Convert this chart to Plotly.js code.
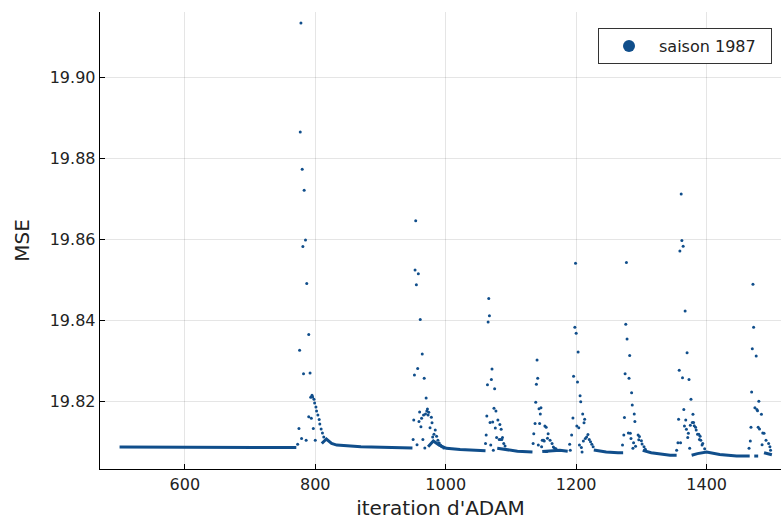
<!DOCTYPE html>
<html>
<head>
<meta charset="utf-8">
<script src="https://cdn.plot.ly/plotly-3.0.1.min.js"></script>
<style>
html, body { margin: 0; padding: 0; overflow: hidden; background: #fff; }
#chart { width: 781px; height: 525px; }
</style>
</head>
<body>
<div id="chart"></div>
<script>
// ---- data ----
const seriesName = "saison 1987";

// scattered points of the restarts (iteration, MSE)
const spikeIter = [
  778, 777, 780, 783, 785, 781, 787, 790, 776, 782, 792, 793, 795, 796, 798, 799, 801, 802, 804, 806, 807, 809, 811, 813, 790, 794, 775, 797, 779, 786, 800, 773,
  954, 953, 958, 955, 961, 964, 957, 952, 967, 970, 972, 971, 974, 969, 973, 960, 966, 963, 951, 959, 978, 962, 979, 976, 984, 980, 950, 965, 986, 988, 990, 956, 968, 992, 982, 994, 997,
  1066, 1067, 1065, 1071, 1070, 1064, 1075, 1074, 1077, 1063, 1068, 1072, 1080, 1083, 1085, 1076, 1062, 1078, 1087, 1082, 1084, 1086, 1089, 1091, 1069, 1061, 1073,
  1140, 1141, 1139, 1138, 1143, 1146, 1145, 1137, 1144, 1152, 1154, 1135, 1157, 1156, 1148, 1150, 1151, 1160, 1163, 1134, 1142, 1147, 1165, 1167, 1169, 1153, 1155,
  1199, 1198, 1200, 1203, 1196, 1202, 1206, 1207, 1210, 1195, 1213, 1212, 1201, 1204, 1193, 1218, 1216, 1214, 1211, 1220, 1222, 1224, 1226, 1205, 1208, 1209, 1190, 1191,
  1277, 1276, 1278, 1282, 1275, 1281, 1285, 1286, 1289, 1274, 1290, 1280, 1283, 1273, 1295, 1297, 1296, 1300, 1301, 1304, 1306, 1284, 1288, 1291, 1287, 1271,
  1361, 1362, 1364, 1359, 1367, 1370, 1358, 1363, 1373, 1376, 1365, 1379, 1357, 1368, 1378, 1381, 1384, 1386, 1389, 1393, 1397, 1366, 1369, 1372, 1375, 1371, 1388, 1390, 1391, 1394, 1380, 1383, 1356, 1360, 1374, 1354,
  1471, 1472, 1470, 1476, 1469, 1480, 1474, 1477, 1478, 1484, 1468, 1479, 1481, 1486, 1488, 1491, 1495, 1485, 1467, 1497, 1498, 1465
];
const spikeMSE = [
  19.9135, 19.8866, 19.8774, 19.8722, 19.8599, 19.8583, 19.8492, 19.8366, 19.8327, 19.8269, 19.8271, 19.8211, 19.8216, 19.8212, 19.8206, 19.8197, 19.8187, 19.8177, 19.8167, 19.8156, 19.8145, 19.8133, 19.8123, 19.8113, 19.8163, 19.8159, 19.8134, 19.8134, 19.8109, 19.8105, 19.8105, 19.8095,
  19.8647, 19.8525, 19.8516, 19.8489, 19.8403, 19.8318, 19.8282, 19.8266, 19.8258, 19.8209, 19.8182, 19.8177, 19.8174, 19.8170, 19.8167, 19.8175, 19.8167, 19.8159, 19.8155, 19.8151, 19.8162, 19.8138, 19.8148, 19.8136, 19.8130, 19.8113, 19.8107, 19.8107, 19.8115, 19.8105, 19.8098, 19.8094, 19.8086, 19.8093, 19.8120, 19.8089, 19.8086,
  19.8455, 19.8412, 19.8397, 19.8281, 19.8255, 19.8242, 19.8232, 19.8184, 19.8177, 19.8165, 19.8149, 19.8150, 19.8155, 19.8144, 19.8132, 19.8135, 19.8118, 19.8112, 19.8112, 19.8107, 19.8107, 19.8107, 19.8097, 19.8091, 19.8093, 19.8097, 19.8080,
  19.8303, 19.8258, 19.8243, 19.8199, 19.8183, 19.8185, 19.8170, 19.8146, 19.8146, 19.8140, 19.8137, 19.8121, 19.8121, 19.8110, 19.8105, 19.8105, 19.8103, 19.8105, 19.8097, 19.8097, 19.8093, 19.8089, 19.8088, 19.8085, 19.8084, 19.8077, 19.8077,
  19.8542, 19.8384, 19.8369, 19.8323, 19.8263, 19.8249, 19.8215, 19.8200, 19.8170, 19.8160, 19.8157, 19.8148, 19.8140, 19.8136, 19.8118, 19.8119, 19.8113, 19.8109, 19.8103, 19.8107, 19.8101, 19.8095, 19.8089, 19.8093, 19.8087, 19.8076, 19.8095, 19.8080,
  19.8544, 19.8391, 19.8355, 19.8314, 19.8269, 19.8258, 19.8222, 19.8192, 19.8170, 19.8161, 19.8151, 19.8123, 19.8122, 19.8118, 19.8118, 19.8114, 19.8106, 19.8104, 19.8096, 19.8089, 19.8083, 19.8109, 19.8099, 19.8090, 19.8085, 19.8093,
  19.8713, 19.8598, 19.8584, 19.8572, 19.8424, 19.8321, 19.8278, 19.8259, 19.8255, 19.8206, 19.8181, 19.8169, 19.8157, 19.8155, 19.8149, 19.8141, 19.8130, 19.8120, 19.8107, 19.8093, 19.8084, 19.8140, 19.8132, 19.8122, 19.8142, 19.8112, 19.8120, 19.8115, 19.8105, 19.8097, 19.8149, 19.8137, 19.8099, 19.8099, 19.8085, 19.8080,
  19.8490, 19.8384, 19.8331, 19.8313, 19.8224, 19.8201, 19.8185, 19.8181, 19.8178, 19.8169, 19.8137, 19.8137, 19.8133, 19.8123, 19.8122, 19.8105, 19.8097, 19.8094, 19.8103, 19.8089, 19.8080, 19.8085
];

// dense run of points that merge into a band (iteration, MSE); null = gap
const bandIter = [500, 600, 700, 771, null, 810, 817, 825, 833, 870, 949, null, 973, 981, 990, 1001, 1022, 1052, 1061, null, 1079, 1095, 1110, 1133, null, 1148, 1160, 1175, 1187, null, 1227, 1246, 1264, 1272, null, 1302, 1315, 1344, 1354, null, 1377, 1386, 1400, 1420, 1446, 1466, null, 1473, 1479, null, 1488, 1494, 1500];
const bandMSE  = [19.8088, 19.8088, 19.8087, 19.8087, null, 19.8097, 19.8108, 19.8097, 19.8093, 19.8089, 19.8086, null, 19.8089, 19.8103, 19.8093, 19.8085, 19.8082, 19.8080, 19.8079, null, 19.8085, 19.8081, 19.8078, 19.8076, null, 19.8077, 19.8078, 19.8080, 19.8078, null, 19.8081, 19.8076, 19.8074, 19.8074, null, 19.8080, 19.8074, 19.8068, 19.8068, null, 19.8068, 19.8072, 19.8076, 19.8070, 19.8066, 19.8066, null, 19.8066, 19.8066, null, 19.8074, 19.8072, 19.8069];

const xTicks = [600, 800, 1000, 1200, 1400];
const yTicks = [19.82, 19.84, 19.86, 19.88, 19.90];
const yTickText = ["19.82", "19.84", "19.86", "19.88", "19.90"];

// ---- styling ----
const COLOR = "#104e8b";
const FONT = "DejaVu Sans";

const traces = [
  {
    x: bandIter, y: bandMSE, type: "scatter", mode: "lines",
    line: { color: COLOR, width: 3 }, connectgaps: false,
    showlegend: false, hoverinfo: "skip"
  },
  {
    x: spikeIter, y: spikeMSE, type: "scatter", mode: "markers",
    name: seriesName + "\u00a0\u00a0",
    marker: { color: COLOR, size: 3, line: { width: 0 } }
  }
];

const axisCommon = {
  showgrid: true, gridcolor: "rgba(0,0,0,0.1)", gridwidth: 1,
  showline: true, linecolor: "#000", linewidth: 1.3,
  ticks: "inside", ticklen: 5, tickcolor: "#000", tickwidth: 1,
  zeroline: false, mirror: false,
  tickfont: { family: FONT, size: 16, color: "#222" }
};

const layout = {
  width: 781, height: 525,
  margin: { l: 100, r: 0, t: 12, b: 56 },
  paper_bgcolor: "#fff", plot_bgcolor: "#fff",
  font: { family: FONT, color: "#222" },
  xaxis: Object.assign({}, axisCommon, {
    range: [470, 1514], tickvals: xTicks, ticktext: xTicks.map(String),
    title: { text: "iteration d'ADAM", font: { family: FONT, size: 20, color: "#222" }, standoff: 8 }
  }),
  yaxis: Object.assign({}, axisCommon, {
    range: [19.8034, 19.9162], tickvals: yTicks, ticktext: yTickText,
    title: { text: "MSE", font: { family: FONT, size: 20, color: "#222" }, standoff: 14 }
  }),
  legend: {
    x: 0.7313, y: 0.965, xanchor: "left", yanchor: "top",
    bgcolor: "#fff", bordercolor: "#333", borderwidth: 1,
    font: { family: FONT, size: 16, color: "#222" },
    itemsizing: "constant", itemwidth: 50
  },
  showlegend: true
};

Plotly.newPlot("chart", traces, layout, { staticPlot: true, displayModeBar: false });
</script>
</body>
</html>
